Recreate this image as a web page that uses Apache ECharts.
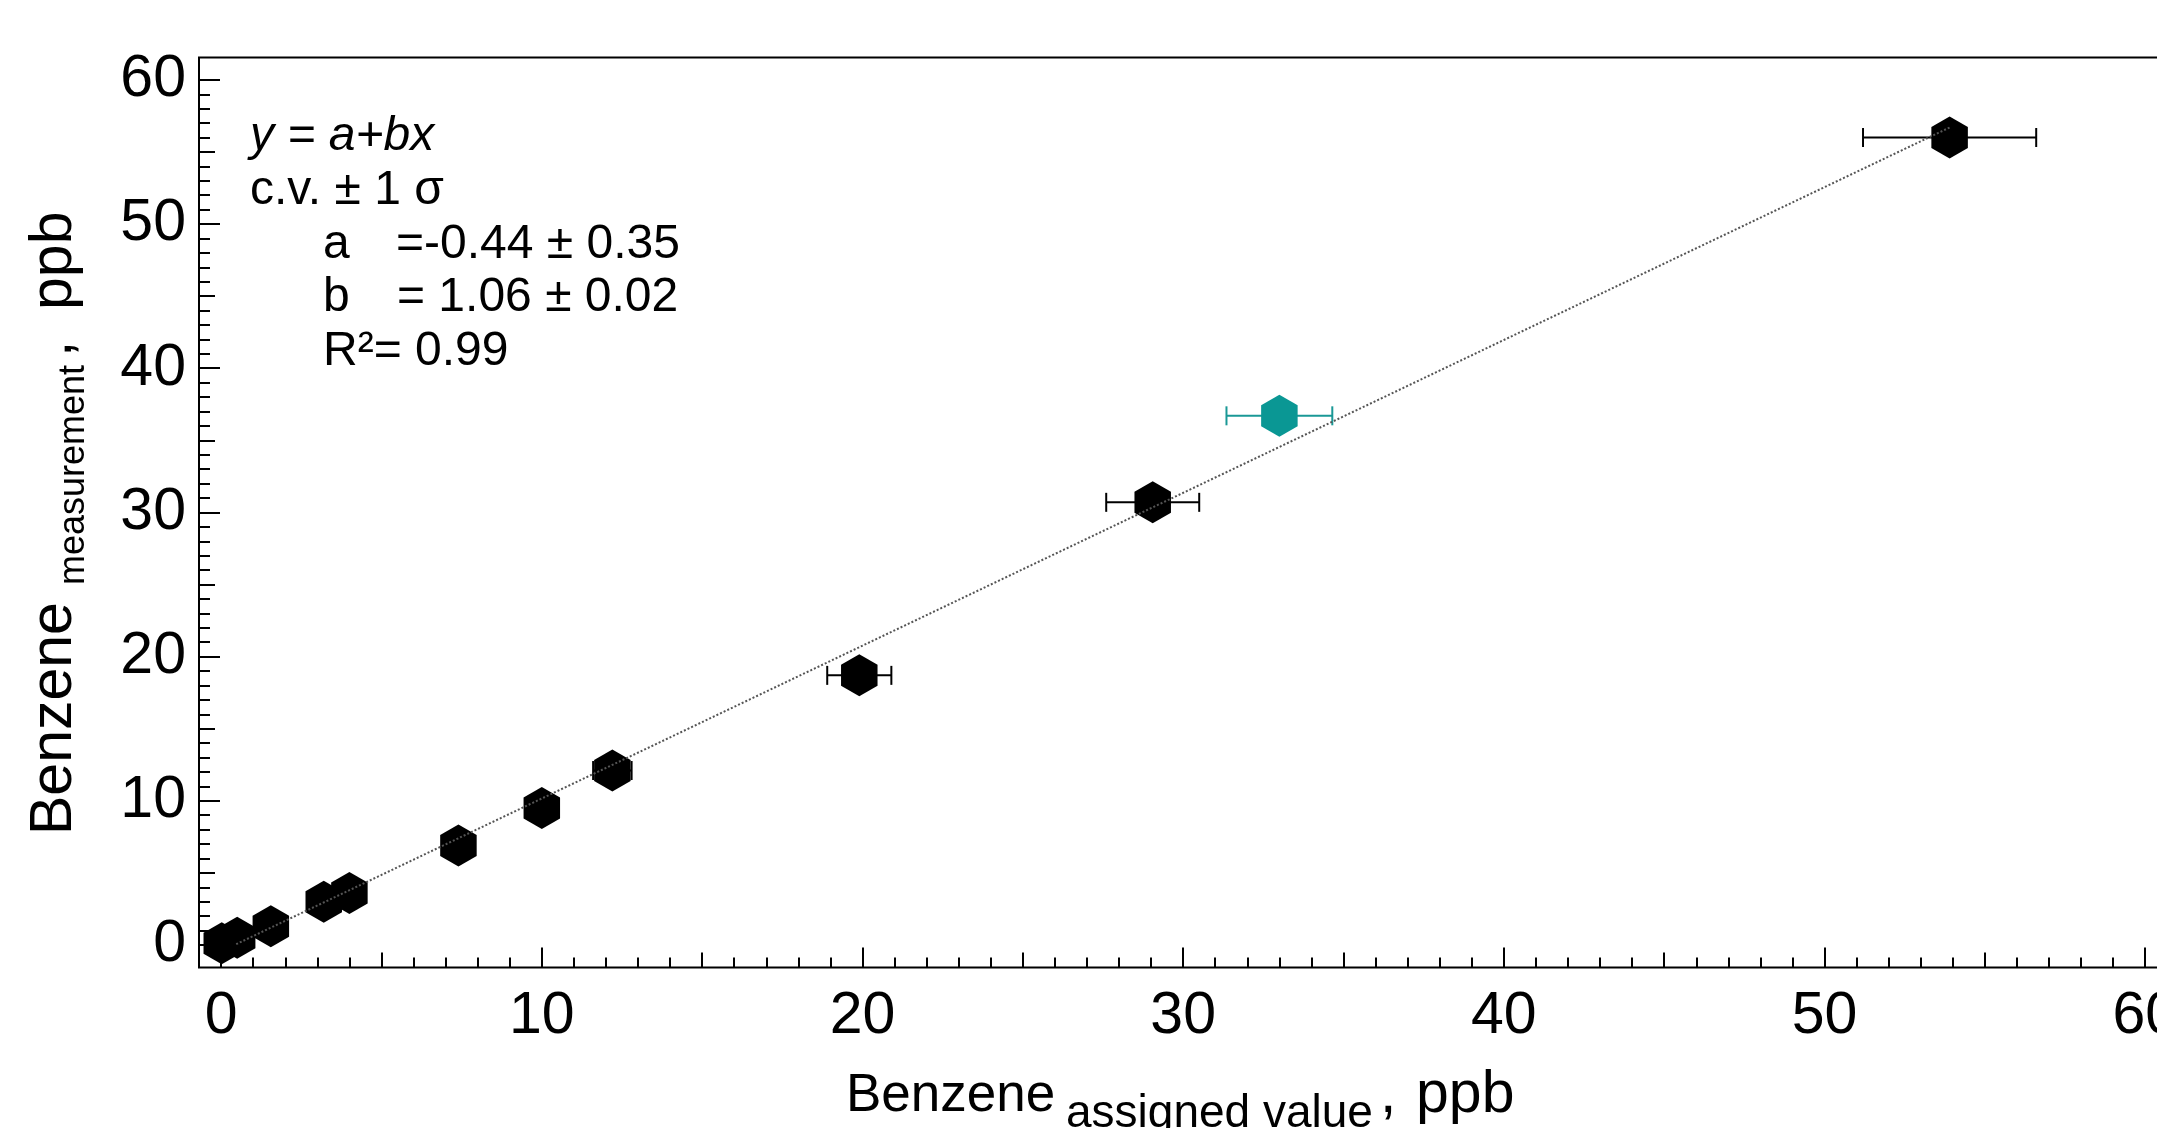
<!DOCTYPE html>
<html>
<head>
<meta charset="utf-8">
<script src="https://cdn.jsdelivr.net/npm/echarts@6/dist/echarts.min.js"></script>
<style>
  html, body { margin: 0; padding: 0; background: #fff; }
  #chart-container { width: 2157px; height: 1128px; }
</style>
</head>
<body>
<div id="chart-container"></div>
<script>
var FONT = '"Liberation Sans", Arial, sans-serif';

// datos
var assigned    = [0.02, 0.5, 1.55, 3.2, 4.0, 7.4, 10.0, 12.2, 19.9, 29.05, 53.9];
var measured    = [0.12, 0.5, 1.3, 3.0, 3.6, 6.9, 9.5, 12.1, 18.7, 30.7, 56.0];
var assignedErr = [0.01, 0.03, 0.08, 0.15, 0.2, 0.35, 0.45, 0.6, 1.0, 1.45, 2.7];

// punto en verde azulado
var outlierX   = [33.0];
var outlierY   = [36.7];
var outlierErr = [1.65];

// recta de ajuste y = a + b x
var fitA = -0.44;
var fitB = 1.06;
var fitRange = [0.47, 53.9];

// ejes
var xRange = [-0.69, 60.71];
var yRange = [-1.56, 61.55];
var xTicks = [0, 10, 20, 30, 40, 50, 60];
var yTicks = [0, 10, 20, 30, 40, 50, 60];

function midTicks(major) {
  var out = [];
  for (var i = 0; i < major.length - 1; i++) out.push((major[i] + major[i + 1]) / 2);
  return out;
}
function minorTicks(major) {
  var out = [];
  for (var v = major[0]; v <= major[major.length - 1]; v++) {
    if (v % 5 !== 0) out.push(v);
  }
  return out;
}

var blackPts = assigned.map(function (x, i) { return [x, measured[i]]; });
var blackErr = assigned.map(function (x, i) { return [x, measured[i], assignedErr[i]]; });
var tealPts = outlierX.map(function (x, i) { return [x, outlierY[i]]; });
var tealErr = outlierX.map(function (x, i) { return [x, outlierY[i], outlierErr[i]]; });
var fitLine = fitRange.map(function (x) { return [x, fitA + fitB * x]; });

var hexagon = 'path://M0,-1 L0.866,-0.5 L0.866,0.5 L0,1 L-0.866,0.5 L-0.866,-0.5 Z';

function errorBars(color) {
  return function (params, api) {
    var x = api.value(0), y = api.value(1), e = api.value(2);
    var p0 = api.coord([x - e, y]);
    var p1 = api.coord([x + e, y]);
    var h = 9.5;
    var st = { stroke: color, lineWidth: 2 };
    return {
      type: 'group',
      children: [
        { type: 'line', shape: { x1: p0[0], y1: p0[1], x2: p1[0], y2: p1[1] }, style: st },
        { type: 'line', shape: { x1: p0[0], y1: p0[1] - h, x2: p0[0], y2: p0[1] + h }, style: st },
        { type: 'line', shape: { x1: p1[0], y1: p1[1] - h, x2: p1[0], y2: p1[1] + h }, style: st }
      ]
    };
  };
}

function txt(text, x, y, size, extra) {
  extra = extra || {};
  return {
    type: 'text', x: x, y: y,
    style: {
      text: text,
      font: (extra.italic ? 'italic ' : '') + size + 'px ' + FONT,
      fill: '#000',
      textAlign: 'left',
      textVerticalAlign: 'middle'
    }
  };
}

var tickStyle = { color: '#000', width: 2 };
var labelStyle = { color: '#000', fontSize: 59, fontFamily: FONT };

function tickAxis(kind, values, len, labels, margin) {
  var range = kind === 'x' ? xRange : yRange;
  return {
    type: 'value', gridIndex: 0, min: range[0], max: range[1],
    position: kind === 'x' ? 'bottom' : 'left', offset: 0,
    axisLine: { show: false, onZero: false },
    axisTick: { show: true, inside: true, length: len, lineStyle: tickStyle, customValues: values },
    axisLabel: labels ? Object.assign({ margin: margin, customValues: values }, labelStyle) : { show: false },
    minorTick: { show: false },
    splitLine: { show: false }
  };
}

var dom = document.getElementById('chart-container');
var myChart = echarts.init(dom, null, { renderer: 'canvas' });

var option = {
  animation: false,
  backgroundColor: '#fff',
  grid: [{
    left: 199, right: -11, top: 57.5, bottom: 160.5,
    outerBoundsMode: 'none', containLabel: false,
    show: true, borderColor: '#000', borderWidth: 2, backgroundColor: 'transparent'
  }],
  xAxis: [
    tickAxis('x', xTicks, 20, true, 20),
    tickAxis('x', midTicks(xTicks), 15, false),
    tickAxis('x', minorTicks(xTicks), 10, false)
  ],
  yAxis: [
    tickAxis('y', yTicks, 21, true, 13),
    tickAxis('y', midTicks(yTicks), 16, false),
    tickAxis('y', minorTicks(yTicks), 11, false)
  ],
  series: [
    {
      type: 'custom', renderItem: errorBars('#000'), data: blackErr, z: 2, silent: true
    },
    {
      type: 'custom', renderItem: errorBars('#1a9896'), data: tealErr, z: 2, silent: true
    },
    {
      type: 'scatter', symbol: hexagon, symbolSize: [36.5, 42],
      itemStyle: { color: '#000', opacity: 1 },
      data: blackPts, z: 3
    },
    {
      type: 'scatter', symbol: hexagon, symbolSize: [36.5, 42],
      itemStyle: { color: '#0a9794', opacity: 1 },
      data: tealPts, z: 3
    },
    {
      type: 'line', data: fitLine, showSymbol: false, symbol: 'none',
      lineStyle: { color: '#555', width: 2, type: 'dotted' }, z: 4
    }
  ],
  graphic: [
    txt('y = a+bx', 250, 137, 48, { italic: true }),
    txt('c.v. \u00b1 1 \u03c3', 250, 191, 48),
    txt('a', 323, 245, 48),
    txt('=-0.44 \u00b1 0.35', 396, 245, 48),
    txt('b', 323, 298, 48),
    txt('= 1.06 \u00b1 0.02', 397, 298, 48),
    txt('R\u00b2= 0.99', 323, 352, 48),
    // titulo eje x
    txt('Benzene', 846, 1096, 53),
    txt('assigned value', 1066, 1114, 46),
    txt(',', 1380, 1096, 59),
    txt('ppb', 1416, 1096, 59),
    // titulo eje y (girado)
    {
      type: 'group', x: 55, y: 835, rotation: Math.PI / 2,
      children: [
        txt('Benzene', 0, 0, 59),
        txt('measurement', 250, 19, 36),
        txt(',', 478, 0, 59),
        txt('ppb', 525, 0, 59)
      ]
    }
  ]
};

myChart.setOption(option);
</script>
</body>
</html>
